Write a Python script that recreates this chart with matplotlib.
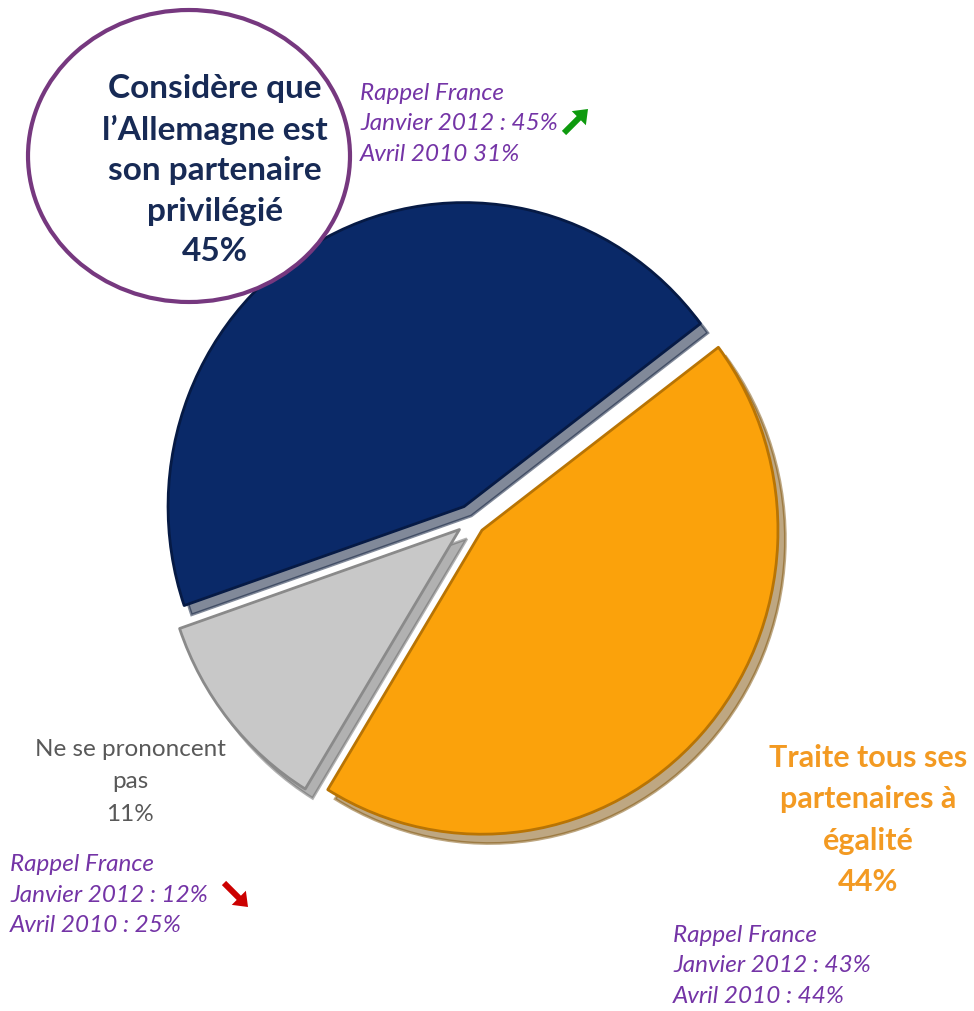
import matplotlib
matplotlib.use("Agg")
import matplotlib.pyplot as plt
from matplotlib.patches import Ellipse

W, H = 974, 1011

# ---- data ----
categories = ["Considère que l'Allemagne est son partenaire privilégié",
              "Ne se prononcent pas",
              "Traite tous ses partenaires à égalité"]
values = [45, 11, 44]
slice_colors = ["#0A2968", "#C8C8C8", "#FBA20B"]
edge_colors = ["#061A45", "#8A8A8A", "#B87404"]
explode = [0.05, 0.05, 0.05]

label_main = "Considère que\nl\u2019Allemagne est\nson partenaire\nprivilégié\n45%"
label_nsp = "Ne se prononcent\npas\n11%"
label_egal = "Traite tous ses\npartenaires à\négalité\n44%"
rappel_all = "Rappel France\nJanvier 2012 : 45%\nAvril 2010 31%"
rappel_nsp = "Rappel France\nJanvier 2012 : 12%\nAvril 2010 : 25%"
rappel_egal = "Rappel France\nJanvier 2012 : 43%\nAvril 2010 : 44%"

fig = plt.figure(figsize=(W / 100, H / 100), dpi=100)
fig.patch.set_facecolor("white")

# ---- pie axes (slightly elliptical) ----
cx, cy, rx, ry = 471, 520, 296, 304
lim = 1.12
pax = fig.add_axes([(cx - rx * lim) / W, (H - (cy + ry * lim)) / H,
                    2 * rx * lim / W, 2 * ry * lim / H])

wedges, _ = pax.pie(values, colors=slice_colors, explode=explode,
                    startangle=37, counterclock=True, radius=1.0,
                    shadow={"ox": 0.018, "oy": -0.022, "shade": 0.5},
                    wedgeprops=dict(linewidth=2.0))
for w, ec in zip(wedges, edge_colors):
    w.set_edgecolor(ec)
    w.set_joinstyle("round")
pax.set_aspect("auto")
pax.set_xlim(-lim, lim)
pax.set_ylim(-lim, lim)
pax.axis("off")

# ---- overlay axes in pixel coordinates ----
ax = fig.add_axes([0, 0, 1, 1])
ax.set_xlim(0, W)
ax.set_ylim(H, 0)
ax.axis("off")
ax.patch.set_alpha(0)

circle = Ellipse((189, 156), 322, 292, facecolor="white",
                 edgecolor="#76387F", linewidth=3, zorder=3)
ax.add_patch(circle)

font = "Lato"
ax.text(215, 170, label_main, ha="center", va="center", fontsize=24,
        fontweight="bold", color="#172A55", family=font, linespacing=1.48,
        zorder=4)

purple = "#7434A6"
for x, y, s in [(360, 124, rappel_all), (10, 895, rappel_nsp),
                (673, 966, rappel_egal)]:
    ax.text(x, y, s, ha="left", va="center", fontsize=17.5,
            style="italic", color=purple, family=font, linespacing=1.58)

ax.text(130, 782, label_nsp, ha="center", va="center", fontsize=17.5,
        color="#595959", family=font, linespacing=1.68)

ax.text(868, 820, label_egal, ha="center", va="center", fontsize=22,
        fontweight="bold", color="#F39A22", family=font, linespacing=1.59)

# trend arrows
ax.arrow(564, 133, 24, -24, width=6, head_width=20, head_length=13,
         length_includes_head=True, color="#0E9A0E", lw=0)
ax.arrow(224, 883, 24, 24, width=6, head_width=20, head_length=13,
         length_includes_head=True, color="#CC0000", lw=0)

fig.savefig("out.png", dpi=100, facecolor="white")
